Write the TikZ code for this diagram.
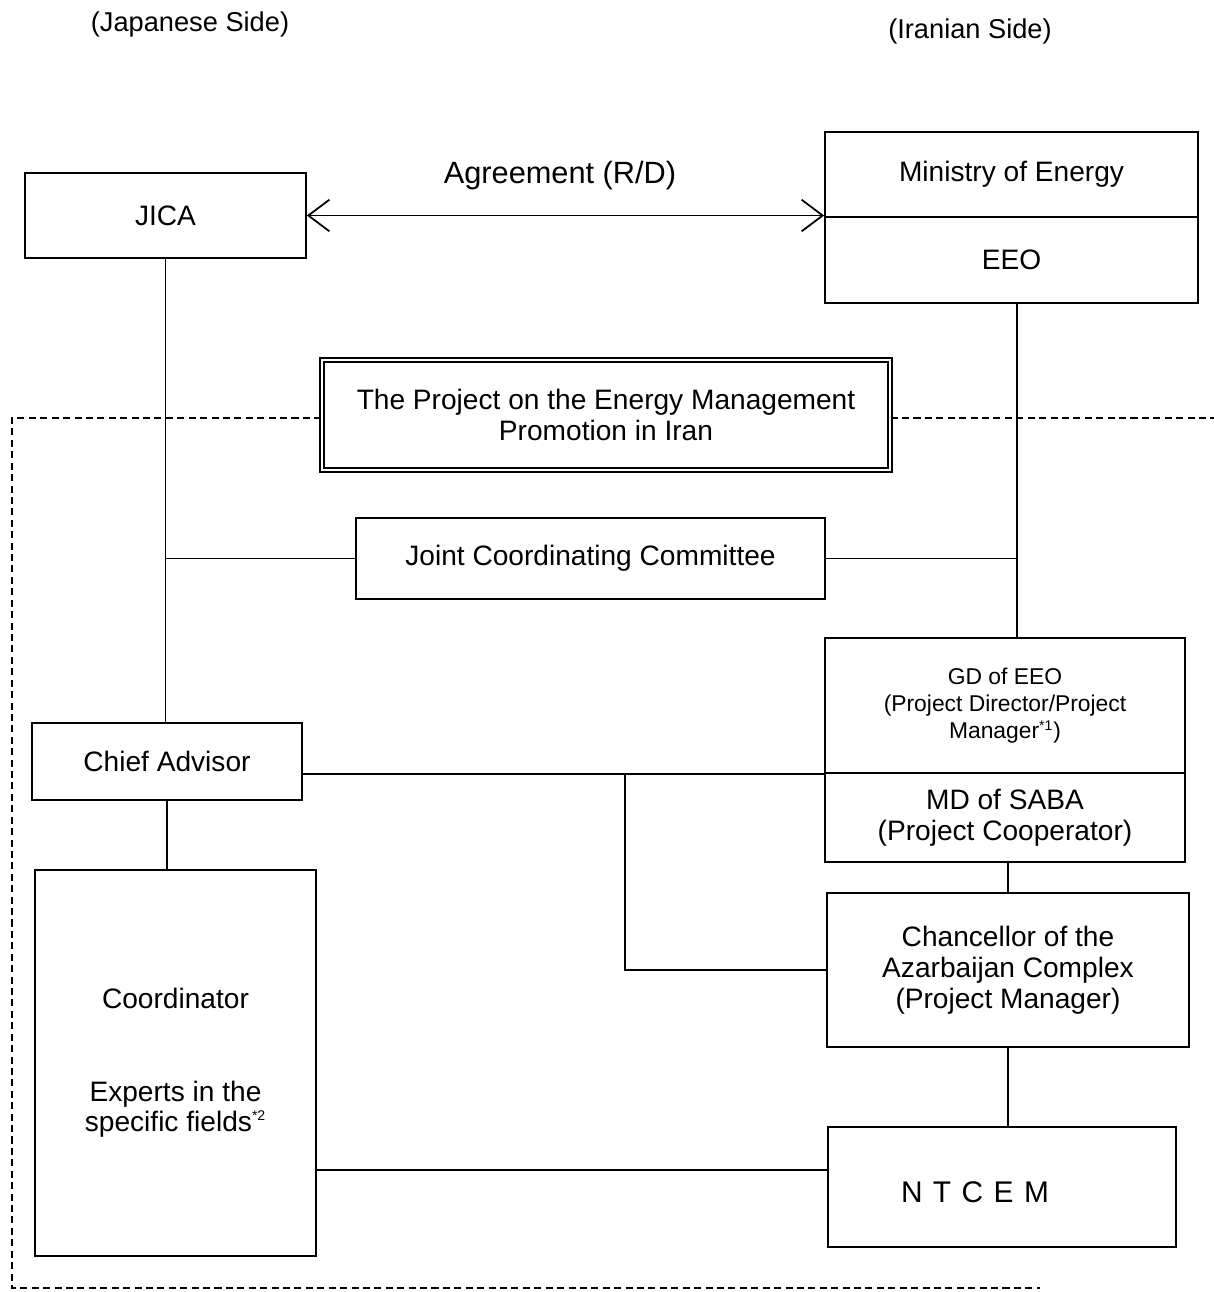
\documentclass[tikz,border=0pt]{standalone}
\usepackage{fontspec}
\setmainfont{Liberation Sans}
\usetikzlibrary{arrows.meta}
\tikzset{
  box/.style={draw, line width=1pt, align=center, inner sep=0pt,
    font=\fontsize{16}{17.6}\selectfont},
  small/.style={font=\fontsize{13}{15.3}\selectfont},
  side/.style={font=\fontsize{15.5}{18}\selectfont},
  link/.style={line width=1pt},
  frame/.style={line width=1pt, dash pattern=on 4pt off 2.5pt},
}
\newcommand{\fnmark}[1]{\textsuperscript{\fontsize{8}{8}\selectfont *#1}}
\begin{document}
\begin{tikzpicture}[x=0.02cm, y=-0.02cm]
  \useasboundingbox (0,0) rectangle (1214,1292);

  \node[side] (jside) at (190,24) {(Japanese Side)};
  \node[side] (iside) at (970,31) {(Iranian Side)};

  % top level
  \node[box, minimum width=5.62cm, minimum height=1.7cm] (jica) at (165.5,215.5) {JICA};
  \node[box, minimum width=7.46cm, minimum height=1.7cm] (moe) at (1011.5,174.5) {Ministry of Energy};
  \node[box, minimum width=7.46cm, minimum height=1.72cm] (eeo) at (1011.5,260) {EEO};
  \node[font=\fontsize{17.5}{20}\selectfont] (agree) at (560,176) {Agreement (R/D)};

  % project
  \node[box, double, double distance=1.6pt, line width=0.8pt,
    minimum width=11.36cm, minimum height=2.2cm] (proj) at (606,415)
    {The Project on the Energy Management\\Promotion in Iran};
  \node[box, minimum width=9.38cm, minimum height=1.62cm] (jcc) at (590.5,558.5) {Joint Coordinating Committee};

  \node[box, small, minimum width=7.2cm, minimum height=2.7cm] (gd) at (1005,705.5)
    {GD of EEO\\(Project Director/Project\\Manager\fnmark{1})};
  \node[box, minimum width=7.2cm, minimum height=1.78cm] (md) at (1005,817.5)
    {MD of SABA\\(Project Cooperator)};
  \node[box, minimum width=5.4cm, minimum height=1.54cm] (chief) at (167,761.5) {Chief Advisor};
  \node[box, minimum width=5.62cm, minimum height=7.72cm] (coord) at (175.5,1063)
    {Coordinator\\[35pt]Experts in the\\specific fields\fnmark{2}};
  \node[box, minimum width=7.24cm, minimum height=3.08cm] (chan) at (1008,970)
    {Chancellor of the\\Azarbaijan Complex\\(Project Manager)};
  \node[box, minimum width=6.96cm, minimum height=2.4cm] (ntcem) at (1002,1187) {};
  \node[font=\fontsize{17}{20}\selectfont\addfontfeature{LetterSpace=35}] (ntcemtext) at (975,1192) {NTCEM};

  % dashed frame
  \draw[frame] (proj.west |- 0,418) -- (12,418) -- (12,1288) -- (1040,1288);
  \draw[frame] (proj.east |- 0,418) -- (1214,418);

  % connectors
  \draw[link, {Straight Barb[length=12pt, width=18pt]}-{Straight Barb[length=12pt, width=18pt]}]
    (jica.east) -- (jica.east -| eeo.north west);
  \draw[link] (jica.south) -- (jica.south |- chief.north);
  \draw[link] ([xshift=0.11cm]eeo.south) -- ([xshift=0.11cm]eeo.south |- gd.north);
  \draw[link] (jcc.west) -- (jcc.west -| jica.south);
  \draw[link] (jcc.east) -- ([xshift=0.11cm]jcc.east -| eeo.south);
  \draw[link] (chief.east |- gd.south) -- (gd.south west);
  \coordinate (split) at (625,773);
  \draw[link] (split) |- (chan.west);
  \draw[link] (chief.south) -- (chief.south |- coord.north);
  \draw[link] (chan.north) -- (chan.north |- md.south);
  \draw[link] (chan.south) -- (chan.south |- ntcem.north);
  \draw[link] ([yshift=0.34cm]ntcem.west) -- ([yshift=0.34cm]ntcem.west -| coord.east);
\end{tikzpicture}
\end{document}
